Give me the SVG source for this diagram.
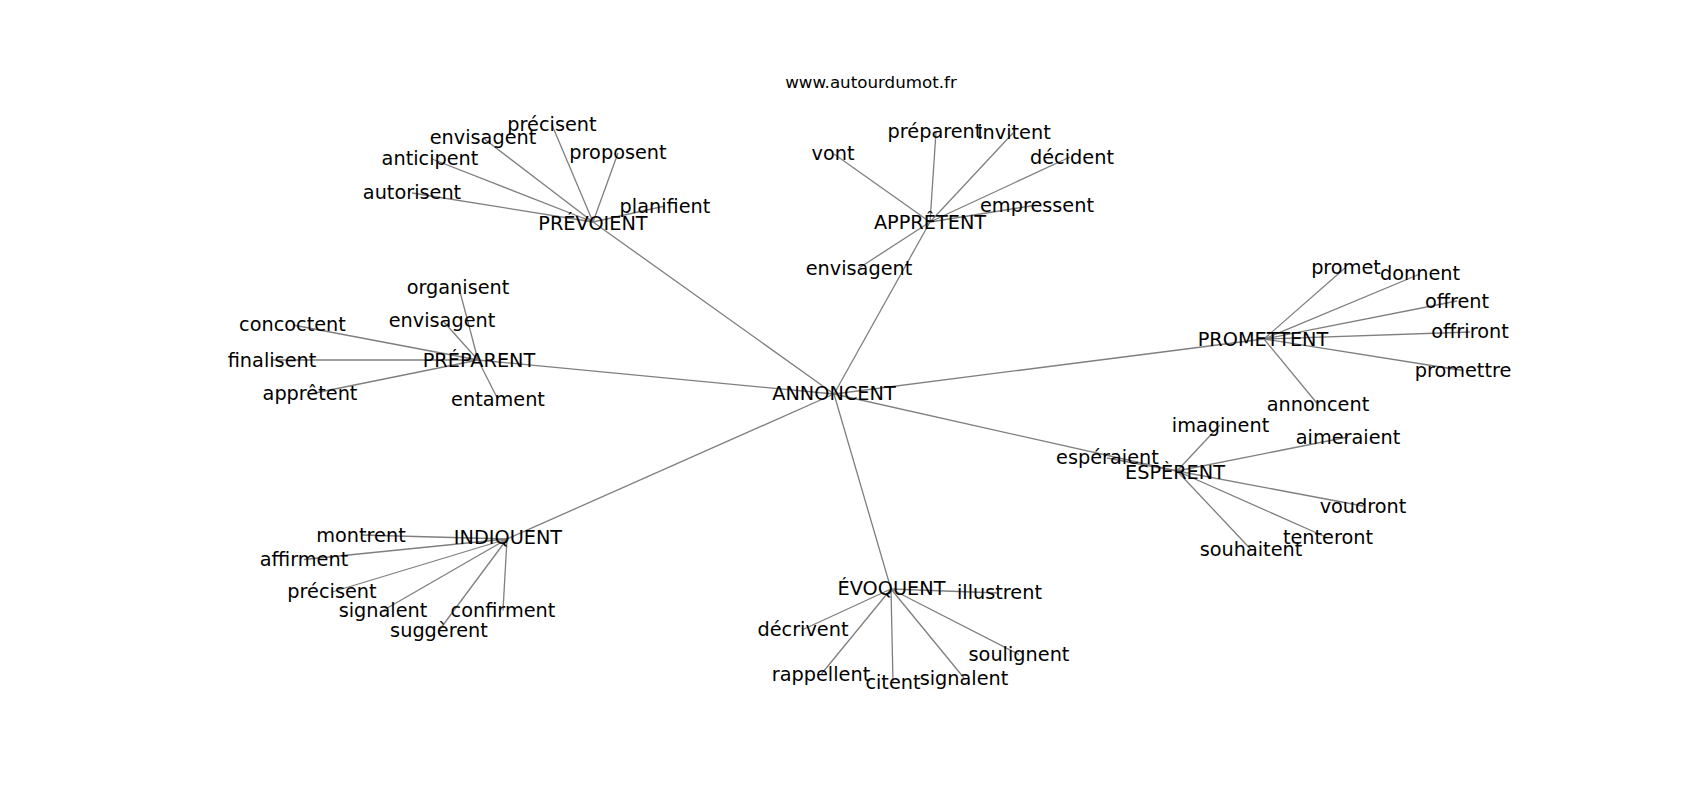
<svg xmlns="http://www.w3.org/2000/svg" width="1700" height="800" viewBox="0 0 1700 800">
<style>
.e line{stroke:#7f7f7f;stroke-width:1.3;fill:none}
text{font-family:"DejaVu Sans","Liberation Sans",sans-serif;font-size:19.3px;fill:#000;text-anchor:middle}
.t{font-size:16.7px}
</style>
<rect width="1700" height="800" fill="#fff"/>
<text class="t" x="871" y="88">www.autourdumot.fr</text>
<g id="edges" class="e">
<line x1="834" y1="394" x2="593" y2="222"/>
<line x1="834" y1="394" x2="930" y2="222"/>
<line x1="834" y1="394" x2="478" y2="360"/>
<line x1="834" y1="394" x2="1264" y2="339"/>
<line x1="834" y1="394" x2="1177" y2="471"/>
<line x1="834" y1="394" x2="507" y2="539"/>
<line x1="834" y1="394" x2="891" y2="589"/>
<line x1="593" y1="222" x2="552" y2="125"/>
<line x1="593" y1="222" x2="483" y2="138"/>
<line x1="593" y1="222" x2="432" y2="159"/>
<line x1="593" y1="222" x2="412" y2="193"/>
<line x1="593" y1="222" x2="618" y2="153"/>
<line x1="593" y1="222" x2="665" y2="206"/>
<line x1="930" y1="222" x2="834" y2="154"/>
<line x1="930" y1="222" x2="936" y2="132"/>
<line x1="930" y1="222" x2="1013" y2="133"/>
<line x1="930" y1="222" x2="1070" y2="157"/>
<line x1="930" y1="222" x2="1037" y2="205"/>
<line x1="930" y1="222" x2="859" y2="268"/>
<line x1="478" y1="360" x2="459" y2="288"/>
<line x1="478" y1="360" x2="443" y2="321"/>
<line x1="478" y1="360" x2="293" y2="325"/>
<line x1="478" y1="360" x2="272" y2="360"/>
<line x1="478" y1="360" x2="310" y2="394"/>
<line x1="478" y1="360" x2="498" y2="399.5"/>
<line x1="1264" y1="339" x2="1345" y2="268"/>
<line x1="1264" y1="339" x2="1420" y2="274"/>
<line x1="1264" y1="339" x2="1457" y2="301"/>
<line x1="1264" y1="339" x2="1470" y2="332"/>
<line x1="1264" y1="339" x2="1463" y2="370.5"/>
<line x1="1264" y1="339" x2="1318" y2="404.5"/>
<line x1="1177" y1="471" x2="1107" y2="458"/>
<line x1="1177" y1="471" x2="1220" y2="425"/>
<line x1="1177" y1="471" x2="1348" y2="437"/>
<line x1="1177" y1="471" x2="1363" y2="506"/>
<line x1="1177" y1="471" x2="1328" y2="538"/>
<line x1="1177" y1="471" x2="1251" y2="549.5"/>
<line x1="507" y1="539" x2="361" y2="535"/>
<line x1="507" y1="539" x2="304" y2="559.5"/>
<line x1="507" y1="539" x2="332" y2="592"/>
<line x1="507" y1="539" x2="383" y2="610.5"/>
<line x1="507" y1="539" x2="503" y2="610.5"/>
<line x1="507" y1="539" x2="439" y2="630.5"/>
<line x1="891" y1="589" x2="999" y2="593"/>
<line x1="891" y1="589" x2="803" y2="629.5"/>
<line x1="891" y1="589" x2="821" y2="674.5"/>
<line x1="891" y1="589" x2="893" y2="683"/>
<line x1="891" y1="589" x2="964" y2="678"/>
<line x1="891" y1="589" x2="1019" y2="654.5"/>
</g>
<g id="n-annoncent-hub"><text x="834" y="400.3">ANNONCENT</text></g>
<g id="n-prevoient"><text x="593" y="230">PRÉVOIENT</text></g>
<g id="n-prevoient-precisent"><text x="552" y="131">précisent</text></g>
<g id="n-prevoient-envisagent"><text x="483" y="144.3">envisagent</text></g>
<g id="n-anticipent"><text x="430" y="165">anticipent</text></g>
<g id="n-autorisent"><text x="412" y="199.3">autorisent</text></g>
<g id="n-proposent"><text x="618" y="159.3">proposent</text></g>
<g id="n-planifient"><text x="665" y="212.7">planifient</text></g>
<g id="n-appretent"><text x="930" y="229.3">APPRÊTENT</text></g>
<g id="n-vont"><text x="833" y="160.3">vont</text></g>
<g id="n-appretent-preparent"><text x="935" y="138.3">préparent</text></g>
<g id="n-invitent"><text x="1014" y="139.3">invitent</text></g>
<g id="n-decident"><text x="1072" y="163.7">décident</text></g>
<g id="n-empressent"><text x="1037" y="211.7">empressent</text></g>
<g id="n-appretent-envisagent"><text x="859" y="275">envisagent</text></g>
<g id="n-preparent"><text x="479" y="367">PRÉPARENT</text></g>
<g id="n-organisent"><text x="458" y="294.3">organisent</text></g>
<g id="n-preparent-envisagent"><text x="442" y="327">envisagent</text></g>
<g id="n-concoctent"><text x="292.5" y="331">concoctent</text></g>
<g id="n-finalisent"><text x="272" y="366.7">finalisent</text></g>
<g id="n-appretent-leaf"><text x="310" y="400.3">apprêtent</text></g>
<g id="n-entament"><text x="498" y="406">entament</text></g>
<g id="n-promettent"><text x="1263" y="346">PROMETTENT</text></g>
<g id="n-promet"><text x="1346" y="274.3">promet</text></g>
<g id="n-donnent"><text x="1420" y="280.3">donnent</text></g>
<g id="n-offrent"><text x="1457" y="307.7">offrent</text></g>
<g id="n-offriront"><text x="1470" y="338.3">offriront</text></g>
<g id="n-promettre"><text x="1463" y="377">promettre</text></g>
<g id="n-annoncent-leaf"><text x="1318" y="411">annoncent</text></g>
<g id="n-esperent"><text x="1175" y="479.3">ESPÈRENT</text></g>
<g id="n-esperaient"><text x="1107.5" y="464.3">espéraient</text></g>
<g id="n-imaginent"><text x="1220.5" y="431.7">imaginent</text></g>
<g id="n-aimeraient"><text x="1348" y="443.7">aimeraient</text></g>
<g id="n-voudront"><text x="1363" y="512.7">voudront</text></g>
<g id="n-tenteront"><text x="1328" y="544.3">tenteront</text></g>
<g id="n-souhaitent"><text x="1251" y="556">souhaitent</text></g>
<g id="n-indiquent"><text x="508" y="544.3">INDIQUENT</text></g>
<g id="n-montrent"><text x="361" y="541.7">montrent</text></g>
<g id="n-affirment"><text x="304" y="566">affirment</text></g>
<g id="n-indiquent-precisent"><text x="332" y="598.3">précisent</text></g>
<g id="n-indiquent-signalent"><text x="383" y="617">signalent</text></g>
<g id="n-confirment"><text x="503" y="617">confirment</text></g>
<g id="n-suggerent"><text x="439" y="637">suggèrent</text></g>
<g id="n-evoquent"><text x="891.5" y="595">ÉVOQUENT</text></g>
<g id="n-illustrent"><text x="999.5" y="599.3">illustrent</text></g>
<g id="n-decrivent"><text x="803" y="636">décrivent</text></g>
<g id="n-rappellent"><text x="821" y="680.5">rappellent</text></g>
<g id="n-citent"><text x="893" y="688.5">citent</text></g>
<g id="n-evoquent-signalent"><text x="964" y="684.5">signalent</text></g>
<g id="n-soulignent"><text x="1019" y="661">soulignent</text></g>
</svg>
